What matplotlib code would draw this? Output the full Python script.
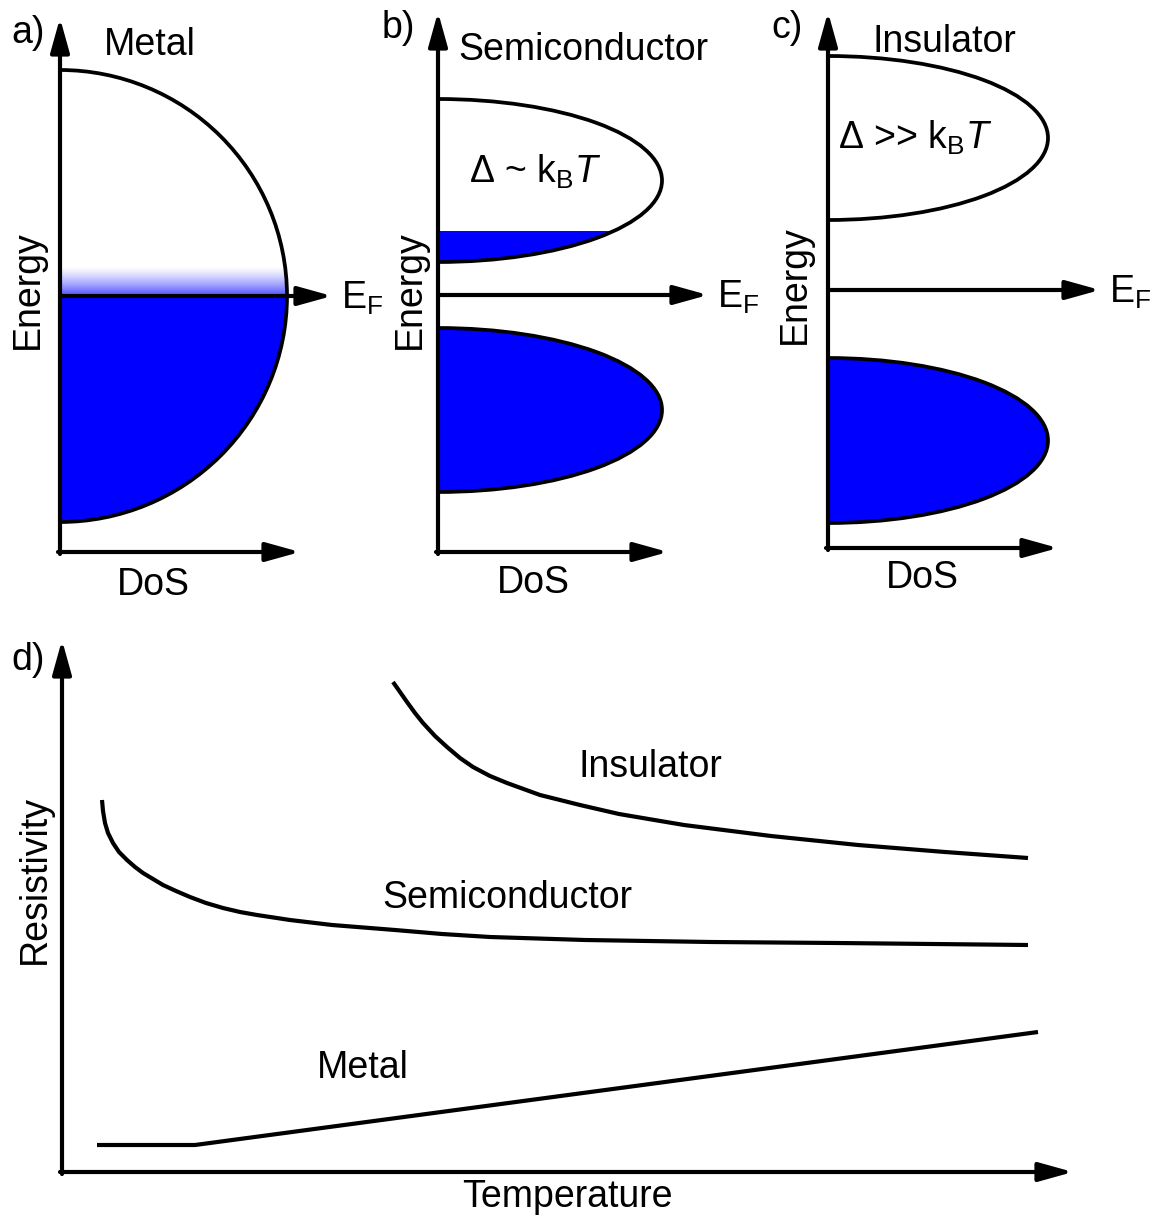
import numpy as np
import matplotlib
matplotlib.use("Agg")
import matplotlib.pyplot as plt
from matplotlib.patches import Ellipse, Arc
from matplotlib.transforms import Bbox, TransformedBbox

plt.rcParams['font.family'] = 'Liberation Sans'
plt.rcParams['mathtext.fontset'] = 'custom'
plt.rcParams['mathtext.rm'] = 'Liberation Sans'
plt.rcParams['mathtext.it'] = 'Liberation Sans:italic'
plt.rcParams['mathtext.bf'] = 'Liberation Sans:bold'

BLUE = '#0000ff'
FS = 27
LW = 3.0

# band shapes: (centre energy, half width in energy, max DoS); E_F sits at 0
metal_band = (0.0, 2.26, 2.27)
semi_bands = [(1.145, 0.815, 2.24), (-1.15, 0.82, 2.24)]
semi_fill = [0.64, 10.0]          # occupied up to this energy, per band
ins_bands = [(1.52, 0.82, 2.20), (-1.505, 0.825, 2.20)]
ins_fill = [None, 10.0]
metal_smear = 0.30                # thermal smearing above E_F

# resistivity vs temperature (arbitrary units)
T_ins = [3.31, 3.38, 3.45, 3.53, 3.61, 3.73, 3.85, 3.98, 4.11, 4.28, 4.45, 4.78, 5.18,
         5.57, 6.22, 7.09, 7.96, 8.83, 9.66]
rho_ins = [4.90, 4.80, 4.70, 4.59, 4.49, 4.36, 4.25, 4.14, 4.05, 3.96, 3.89, 3.77, 3.67,
           3.58, 3.47, 3.36, 3.27, 3.20, 3.14]
T_semi = [0.40, 0.41, 0.43, 0.46, 0.51, 0.57, 0.65, 0.73, 0.81, 0.91, 1.01, 1.14, 1.28,
          1.44, 1.61, 1.78, 1.95, 2.28, 2.70, 3.33, 3.80, 4.28, 5.23, 6.49, 7.75, 9.66]
rho_semi = [3.72, 3.61, 3.49, 3.39, 3.29, 3.20, 3.12, 3.05, 2.99, 2.93, 2.87, 2.81, 2.75,
            2.69, 2.64, 2.60, 2.57, 2.52, 2.47, 2.42, 2.38, 2.35, 2.32, 2.30, 2.29, 2.27]
T_met = [0.35, 1.33, 9.76]
rho_met = [0.27, 0.27, 1.40]

W, H = 1153, 1218
fig = plt.figure(figsize=(W / 100, H / 100), dpi=100)


def add_panel(box, origin):
    # box = (left, top, right, bottom) in px, origin = px position of data (0, 0)
    l, t, r, b = box
    ax = fig.add_axes([l / W, 1 - b / H, (r - l) / W, (b - t) / H])
    ox, oy = origin
    ax.set_xlim((l - ox) / 100, (r - ox) / 100)
    ax.set_ylim((oy - b) / 100, (oy - t) / 100)
    ax.axis('off')
    return ax


def arrow(ax, start, tip):
    ax.annotate('', xy=tip, xytext=start, annotation_clip=False,
                arrowprops=dict(arrowstyle='-|>,head_length=1.15,head_width=0.32',
                                lw=LW, color='k', mutation_scale=18,
                                shrinkA=0, shrinkB=0))


def axes_arrows(ax, ybot, ytop, xright):
    arrow(ax, (0, ybot - 0.02), (0, ytop))
    arrow(ax, (-0.02, ybot), (xright, ybot))


def band(ax, centre, half, dmax, fill_to=None):
    if fill_to is not None:
        e = Ellipse((0, centre), 2 * dmax, 2 * half, facecolor=BLUE, edgecolor='none')
        ax.add_patch(e)
        e.set_clip_box(TransformedBbox(Bbox([[0, -10], [20, fill_to]]), ax.transData))
    ax.add_patch(Arc((0, centre), 2 * dmax, 2 * half, theta1=-90, theta2=90,
                     lw=LW * 0.9, color='k', zorder=3))


def fermi(ax, xtip):
    arrow(ax, (0, 0), (xtip, 0))
    ax.text(xtip + 0.09, -0.02, r'$\mathrm{E_F}$', fontsize=FS, ha='left', va='center')


def labels(ax, tag, tag_xy, title, title_xy, e_xy, dos_xy):
    ax.text(*tag_xy, tag, fontsize=FS, ha='center', va='center')
    ax.text(*title_xy, title, fontsize=FS, ha='center', va='center')
    ax.text(*e_xy, 'Energy', fontsize=FS, ha='center', va='center', rotation=90)
    ax.text(*dos_xy, 'DoS', fontsize=FS, ha='center', va='center')


# a) metal
axa = add_panel((0, 0, 384, 600), (60, 296))
c, h, d = metal_band
band(axa, c, h, d, fill_to=0.0)
grad = np.zeros((64, 1, 4))
grad[..., 2] = 1.0
grad[:, 0, 3] = np.linspace(0.75, 0.0, 64) ** 1.3
axa.imshow(grad, extent=[0, d - 0.02, 0, metal_smear], origin='lower', aspect='auto',
           interpolation='bilinear', zorder=1)
axa.set_xlim(-0.60, 3.24)
axa.set_ylim(-3.04, 2.96)
axes_arrows(axa, -2.56, 2.78, 2.40)
fermi(axa, 2.72)
labels(axa, 'a)', (-0.32, 2.63), 'Metal', (0.90, 2.51), (-0.32, 0.06), (0.93, -2.89))

# b) semiconductor
axb = add_panel((384, 0, 770, 600), (438, 295))
for (c, h, d), f in zip(semi_bands, semi_fill):
    band(axb, c, h, d, fill_to=f)
axes_arrows(axb, -2.57, 2.83, 2.30)
fermi(axb, 2.70)
labels(axb, 'b)', (-0.40, 2.67), 'Semiconductor', (1.45, 2.45), (-0.28, 0.05), (0.95, -2.88))
axb.text(0.97, 1.23, r'Δ ~ k$_\mathrm{B}$$\mathit{T}$', fontsize=FS, ha='center', va='center')

# c) insulator
axc = add_panel((770, 0, 1153, 600), (828, 290))
for (c, h, d), f in zip(ins_bands, ins_fill):
    band(axc, c, h, d, fill_to=f)
axes_arrows(axc, -2.58, 2.78, 2.30)
fermi(axc, 2.72)
labels(axc, 'c)', (-0.41, 2.62), 'Insulator', (1.16, 2.48), (-0.33, 0.05), (0.94, -2.88))
axc.text(0.87, 1.52, r'Δ >> k$_\mathrm{B}$$\mathit{T}$', fontsize=FS, ha='center', va='center')

# d) resistivity
axd = add_panel((0, 620, 1153, 1218), (62, 1172))
for T, rho in [(T_ins, rho_ins), (T_semi, rho_semi), (T_met, rho_met)]:
    axd.plot(T, rho, color='k', lw=LW, solid_capstyle='butt', solid_joinstyle='round')
arrow(axd, (0, -0.02), (0, 5.32))
arrow(axd, (-0.02, 0), (10.11, 0))
axd.text(-0.34, 5.12, 'd)', fontsize=FS, ha='center', va='center')
axd.text(-0.27, 2.92, 'Resistivity', fontsize=FS, ha='center', va='center', rotation=90)
axd.text(5.05, -0.25, 'Temperature', fontsize=FS, ha='center', va='center')
axd.text(5.88, 4.05, 'Insulator', fontsize=FS, ha='center', va='center')
axd.text(4.45, 2.74, 'Semiconductor', fontsize=FS, ha='center', va='center')
axd.text(3.01, 1.04, 'Metal', fontsize=FS, ha='center', va='center')

fig.savefig('out.png', dpi=100)
